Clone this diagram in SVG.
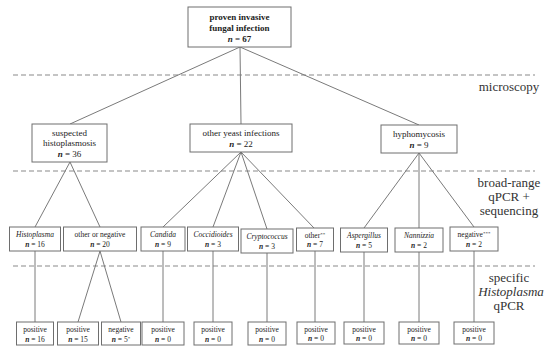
<svg xmlns="http://www.w3.org/2000/svg" width="550" height="355" viewBox="0 0 550 355">
<style>
.bg{fill:#fff}
.box{fill:#fff;stroke:#6e6e6e;stroke-width:1}
.ln{stroke:#7a7a7a;stroke-width:1;fill:none}
.dash{stroke:#8a8a8a;stroke-width:1.2;stroke-dasharray:5 3;fill:none}
text{font-family:"Liberation Serif","Times New Roman",serif;fill:#222;text-anchor:middle}
.t1{font-size:9px}
.tb{font-size:9px;font-weight:bold}
.t2{font-size:7.5px}
.it{font-style:italic}
.n{font-style:italic;font-weight:bold}
.lab{font-size:13px;fill:#333}
</style>
<rect class="bg" x="0" y="0" width="550" height="355"/>
<g id="levels">
<line class="dash" x1="13" y1="75" x2="535" y2="75"/>
<line class="dash" x1="13" y1="171" x2="535" y2="171"/>
<line class="dash" x1="13" y1="266" x2="535" y2="266"/>
<text class="lab" x="509" y="91">microscopy</text>
<text class="lab" x="509" y="187">broad-range</text>
<text class="lab" x="509" y="201">qPCR +</text>
<text class="lab" x="509" y="215">sequencing</text>
<text class="lab" x="509" y="282">specific</text>
<text class="lab it" x="511" y="296">Histoplasma</text>
<text class="lab" x="509" y="310">qPCR</text>
</g>
<g id="connectors">
<line class="ln" x1="240" y1="47" x2="70" y2="124"/>
<line class="ln" x1="240" y1="47" x2="241" y2="124"/>
<line class="ln" x1="240" y1="47" x2="419" y2="125"/>
<line class="ln" x1="70" y1="162" x2="35" y2="227"/>
<line class="ln" x1="70" y1="162" x2="100" y2="227"/>
<line class="ln" x1="241" y1="152" x2="163" y2="227"/>
<line class="ln" x1="241" y1="152" x2="213" y2="227"/>
<line class="ln" x1="241" y1="152" x2="267" y2="229"/>
<line class="ln" x1="241" y1="152" x2="314" y2="228"/>
<line class="ln" x1="419" y1="153" x2="364" y2="228"/>
<line class="ln" x1="419" y1="153" x2="419" y2="228"/>
<line class="ln" x1="419" y1="153" x2="474" y2="227"/>
<line class="ln" x1="35" y1="251" x2="35" y2="322"/>
<line class="ln" x1="100" y1="251" x2="78" y2="322"/>
<line class="ln" x1="100" y1="251" x2="121" y2="322"/>
<line class="ln" x1="163" y1="251" x2="163" y2="322"/>
<line class="ln" x1="213" y1="251" x2="213" y2="322"/>
<line class="ln" x1="267" y1="253" x2="267" y2="322"/>
<line class="ln" x1="315" y1="251" x2="315" y2="322"/>
<line class="ln" x1="364" y1="252" x2="364" y2="322"/>
<line class="ln" x1="419" y1="252" x2="419" y2="322"/>
<line class="ln" x1="474" y1="251" x2="474" y2="322"/>
</g>
<g id="n-top">
<rect class="box" x="188" y="7" width="103" height="40"/>
<text class="tb" x="239.5" y="20">proven invasive</text>
<text class="tb" x="239.5" y="31">fungal infection</text>
<text class="tb" x="239.5" y="42"><tspan class="n">n</tspan> = 67</text>
</g>
<g id="n-susp">
<rect class="box" x="32" y="124" width="75" height="38"/>
<text class="t1" x="69.5" y="136">suspected</text>
<text class="t1" x="69.5" y="146">histoplasmosis</text>
<text class="t1" x="69.5" y="157"><tspan class="n">n</tspan> =  36</text>
</g>
<g id="n-yeast">
<rect class="box" x="190" y="124" width="102" height="28"/>
<text class="t1" x="241" y="136">other yeast infections</text>
<text class="t1" x="241" y="147"><tspan class="n">n</tspan> = 22</text>
</g>
<g id="n-hypho">
<rect class="box" x="381" y="125" width="76" height="28"/>
<text class="t1" x="419" y="137">hyphomycosis</text>
<text class="t1" x="419" y="148"><tspan class="n">n</tspan> = 9</text>
</g>
<g id="n-histo">
<rect class="box" x="9.5" y="227" width="51" height="24"/>
<text class="t2 it" x="35" y="237">Histoplasma</text>
<text class="t2" x="35" y="247"><tspan class="n">n</tspan> = 16</text>
</g>
<g id="n-oon">
<rect class="box" x="63.5" y="227" width="73" height="24"/>
<text class="t2" x="100" y="237">other or negative</text>
<text class="t2" x="100" y="247"><tspan class="n">n</tspan> = 20</text>
</g>
<g id="n-candida">
<rect class="box" x="141" y="227" width="44" height="24"/>
<text class="t2 it" x="163" y="237">Candida</text>
<text class="t2" x="163" y="247"><tspan class="n">n</tspan> = 9</text>
</g>
<g id="n-cocci">
<rect class="box" x="187.5" y="227" width="51" height="24"/>
<text class="t2 it" x="213" y="237">Coccidioides</text>
<text class="t2" x="213" y="247"><tspan class="n">n</tspan> = 3</text>
</g>
<g id="n-crypto">
<rect class="box" x="241" y="229" width="52" height="24"/>
<text class="t2 it" x="267" y="239">Cryptococcus</text>
<text class="t2" x="267" y="249"><tspan class="n">n</tspan> = 3</text>
</g>
<g id="n-other">
<rect class="box" x="296.5" y="228" width="37" height="23"/>
<text class="t2" x="315" y="238">other<tspan font-size="5" dy="-2.5">**</tspan></text>
<text class="t2" x="315" y="247"><tspan class="n">n</tspan> = 7</text>
</g>
<g id="n-asperg">
<rect class="box" x="340.5" y="228" width="47" height="24"/>
<text class="t2 it" x="364" y="238">Aspergillus</text>
<text class="t2" x="364" y="248"><tspan class="n">n</tspan> = 5</text>
</g>
<g id="n-nanni">
<rect class="box" x="395" y="228" width="48" height="24"/>
<text class="t2 it" x="419" y="238">Nannizzia</text>
<text class="t2" x="419" y="248"><tspan class="n">n</tspan> = 2</text>
</g>
<g id="n-neg">
<rect class="box" x="450" y="227" width="48" height="24"/>
<text class="t2" x="474" y="237">negative<tspan font-size="5" dy="-2.5">***</tspan></text>
<text class="t2" x="474" y="247"><tspan class="n">n</tspan> = 2</text>
</g>
<g id="b1"><rect class="box" x="16.5" y="322" width="37" height="23"/><text class="t2" x="35" y="332">positive</text><text class="t2" x="35" y="342"><tspan class="n">n</tspan> = 16</text></g>
<g id="b2"><rect class="box" x="57.5" y="322" width="41" height="23"/><text class="t2" x="78" y="332">positive</text><text class="t2" x="78" y="342"><tspan class="n">n</tspan> = 15</text></g>
<g id="b3"><rect class="box" x="101.5" y="322" width="39" height="23"/><text class="t2" x="121" y="332">negative</text><text class="t2" x="121" y="342"><tspan class="n">n</tspan> = 5<tspan font-size="5" dy="-2.5">*</tspan></text></g>
<g id="b4"><rect class="box" x="142" y="322" width="42" height="23"/><text class="t2" x="163" y="332">positive</text><text class="t2" x="163" y="342"><tspan class="n">n</tspan> = 0</text></g>
<g id="b5"><rect class="box" x="194" y="322" width="38" height="23"/><text class="t2" x="213" y="332">positive</text><text class="t2" x="213" y="342"><tspan class="n">n</tspan> = 0</text></g>
<g id="b6"><rect class="box" x="248" y="322" width="38" height="23"/><text class="t2" x="267" y="332">positive</text><text class="t2" x="267" y="342"><tspan class="n">n</tspan> = 0</text></g>
<g id="b7"><rect class="box" x="297" y="322" width="38" height="22"/><text class="t2" x="316" y="332">positive</text><text class="t2" x="316" y="341"><tspan class="n">n</tspan> = 0</text></g>
<g id="b8"><rect class="box" x="344" y="322" width="40" height="22"/><text class="t2" x="364" y="332">positive</text><text class="t2" x="364" y="341"><tspan class="n">n</tspan> = 0</text></g>
<g id="b9"><rect class="box" x="399" y="322" width="40" height="22"/><text class="t2" x="419" y="332">positive</text><text class="t2" x="419" y="341"><tspan class="n">n</tspan> = 0</text></g>
<g id="b10"><rect class="box" x="454" y="322" width="40" height="22"/><text class="t2" x="474" y="332">positive</text><text class="t2" x="474" y="341"><tspan class="n">n</tspan> = 0</text></g>
</svg>
